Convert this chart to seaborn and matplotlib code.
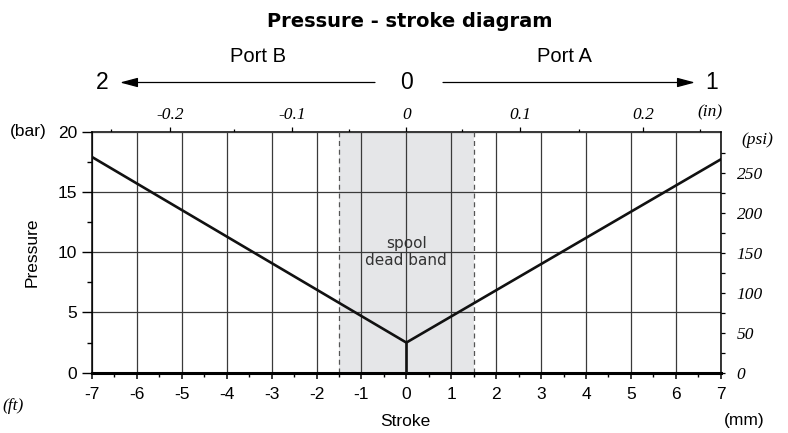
import numpy as np
import pandas as pd
import matplotlib
matplotlib.use("Agg")
import matplotlib.pyplot as plt
from matplotlib.patches import FancyArrowPatch
import seaborn as sns

# ---- data ----
stroke_mm = [-7, 0, 7]
pressure_bar = [17.9, 2.5, 17.7]
stem_x = [0, 0]
stem_y = [0, 2.5]
dead_band = [-1.5, 1.5]

x_major = list(range(-7, 8))
x_minor = [v + 0.5 for v in range(-7, 7)]
y_major = [0, 5, 10, 15, 20]
y_minor = [2.5, 7.5, 12.5, 17.5]

top_major_pos = [-5.26, -2.55, 0, 2.53, 5.28]
top_major_lab = ["-0.2", "-0.1", "0", "0.1", "0.2"]
top_minor_pos = [-6.58, -3.83, -1.27, 1.25, 3.85, 6.55]

psi_major = [0, 50, 100, 150, 200, 250]
psi_minor = [25, 75, 125, 175, 225, 275]
psi_top = 301

sns.set_theme(style="ticks")
plt.rcParams["font.family"] = ["Liberation Sans", "DejaVu Sans"]

W, H = 788, 433
fig = plt.figure(figsize=(W / 100, H / 100), dpi=100)

def fx(px):
    return px / W

def fy(py):
    return 1 - py / H

ax = fig.add_axes([fx(92), fy(372.7), (720.7 - 92) / W, (372.7 - 131.7) / H])

df = pd.DataFrame({"Stroke": stroke_mm, "Pressure": pressure_bar})
stem = pd.DataFrame({"Stroke": stem_x, "Pressure": stem_y})

ax.axvspan(dead_band[0], dead_band[1], color="#e5e6e8", zorder=0.2, lw=0)
for xb in dead_band:
    ax.axvline(xb, color="#555555", lw=0.9, ls=(0, (4, 3)), zorder=1)

sns.lineplot(data=df, x="Stroke", y="Pressure", ax=ax, color="#111111", lw=1.9,
             sort=False, estimator=None, zorder=3)
sns.lineplot(data=stem, x="Stroke", y="Pressure", ax=ax, color="#111111", lw=1.9,
             sort=False, estimator=None, zorder=3)

ax.set_xlim(-7, 7)
ax.set_ylim(0, 20)
ax.set_xticks(x_major)
ax.set_xticklabels([str(v) for v in x_major])
ax.set_xticks(x_minor, minor=True)
ax.set_yticks(y_major)
ax.set_yticklabels([str(v) for v in y_major])
ax.set_yticks(y_minor, minor=True)

ax.set_axisbelow(True)
ax.grid(True, which="major", color="#3a3a3a", lw=0.9)

ax.tick_params(axis="x", which="major", length=4.3, width=1.1, pad=6.0, labelsize=12.5, color="black")
ax.tick_params(axis="x", which="minor", length=2.6, width=1.0, color="black")
ax.tick_params(axis="y", which="major", length=7.2, width=1.0, pad=3.4, labelsize=12.5, color="black")
ax.tick_params(axis="y", which="minor", length=3.6, width=1.0, color="black")
for lab in ax.get_xticklabels() + ax.get_yticklabels():
    lab.set_color("black")

ax.spines["bottom"].set_linewidth(2.2)
ax.spines["left"].set_linewidth(1.1)
ax.spines["top"].set_visible(False)
ax.spines["right"].set_visible(False)
for s in ax.spines.values():
    s.set_color("black")

ax.set_xlabel("Stroke", fontsize=12.5, color="black")
ax.xaxis.set_label_coords((405 - 92) / 628.7, -(421 - 372.7) / 241, transform=ax.transAxes)
ax.xaxis.label.set_va("center")
ax.set_ylabel("Pressure", fontsize=12.5, color="black")
ax.yaxis.set_label_coords(-(92 - 40) / 628.7, 0.5)

# top inch axis
secax = ax.secondary_xaxis("top")
secax.set_xticks(top_major_pos)
secax.set_xticklabels(top_major_lab)
secax.set_xticks(top_minor_pos, minor=True)
secax.tick_params(which="major", length=3.6, width=0.9, pad=2.5, color="black")
secax.tick_params(which="minor", length=2.2, width=0.9, color="black")
for lab in secax.get_xticklabels():
    lab.set_fontfamily("Liberation Serif")
    lab.set_fontstyle("italic")
    lab.set_fontsize(12.5)
    lab.set_color("black")
secax.spines["top"].set_linewidth(1.1)
secax.spines["top"].set_color("black")

# right psi axis
ax2 = ax.twinx()
ax2.set_ylim(0, psi_top)
ax2.set_yticks(psi_major)
ax2.set_yticklabels([str(v) for v in psi_major])
ax2.set_yticks(psi_minor, minor=True)
ax2.grid(False)
ax2.tick_params(axis="y", which="both", length=3.0, width=0.9, color="black")
ax2.tick_params(axis="y", which="major", pad=8.4)
for lab in ax2.get_yticklabels():
    lab.set_fontfamily("Liberation Serif")
    lab.set_fontstyle("italic")
    lab.set_fontsize(12.5)
    lab.set_color("black")
for side in ["left", "top", "bottom"]:
    ax2.spines[side].set_visible(False)
ax2.spines["right"].set_linewidth(1.1)
ax2.spines["right"].set_color("black")

# dead band label
ax.text(0, 10, "spool\ndead band", ha="center", va="center", fontsize=11,
        family="DejaVu Sans", color="#333333", linespacing=1.15, zorder=4)

# figure texts
fig.text(fx(410), fy(21.5), "Pressure - stroke diagram", ha="center", va="center",
         fontsize=14, fontweight="bold", family="DejaVu Sans", color="black")
fig.text(fx(257.5), fy(56), "Port B", ha="center", va="center", fontsize=14.5, color="black")
fig.text(fx(564), fy(56), "Port A", ha="center", va="center", fontsize=14.5, color="black")
fig.text(fx(101.7), fy(82.5), "2", ha="center", va="center", fontsize=16.5, color="black")
fig.text(fx(406), fy(82.5), "0", ha="center", va="center", fontsize=16.5, color="black")
fig.text(fx(711.7), fy(82.5), "1", ha="center", va="center", fontsize=16.5, color="black")

for a, b in [((375, 82.5), (120, 82.5)), ((443, 82.5), (695, 82.5))]:
    arr = FancyArrowPatch((fx(a[0]), fy(a[1])), (fx(b[0]), fy(b[1])), transform=fig.transFigure,
                          arrowstyle="-|>,head_length=0.6,head_width=0.16", mutation_scale=18,
                          lw=0.9, color="black", shrinkA=0, shrinkB=0)
    fig.add_artist(arr)

fig.text(fx(710), fy(112.5), "(in)", ha="center", va="center", fontsize=12.5,
         family="Liberation Serif", style="italic", color="black")
fig.text(fx(757), fy(140), "(psi)", ha="center", va="center", fontsize=12.5,
         family="Liberation Serif", style="italic", color="black")
fig.text(fx(28), fy(131.5), "(bar)", ha="center", va="center", fontsize=12.5, color="black")
fig.text(fx(744), fy(420), "(mm)", ha="center", va="center", fontsize=12.5, color="black")
fig.text(fx(2), fy(406), "(ft)", ha="left", va="center", fontsize=12.5,
         family="Liberation Serif", style="italic", color="black")

fig.savefig("out.png", dpi=100)
